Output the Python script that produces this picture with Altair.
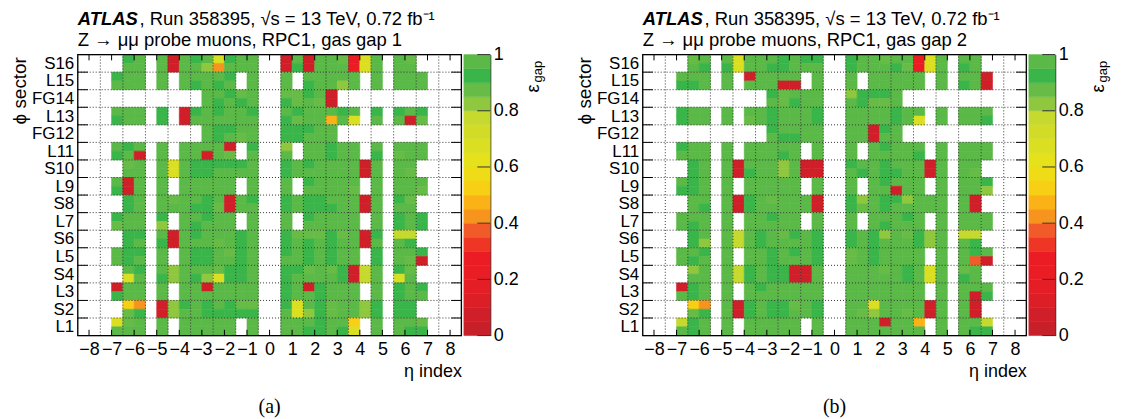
import json
import altair as alt
import pandas as pd

# ---------------- data ----------------
SECTORS = ["L1", "S2", "L3", "S4", "L5", "S6", "L7", "S8",
           "L9", "S10", "L11", "FG12", "L13", "FG14", "L15", "S16"]
ETA_TICKS = list(range(-8, 9))
Z_TICKS = [0, 0.2, 0.4, 0.6, 0.8, 1]

# colour of each 0.05-wide efficiency band, from 0 (bottom) to 1 (top)
PALETTE = ["#c8202a", "#d01f28", "#dc1e26", "#e51e26", "#ea1d25", "#ec1c24",
           "#ef3524", "#f15a29", "#f7941d", "#fbb216", "#f7cf14", "#efdc16",
           "#e5e11a", "#dbdf22", "#d2dc27", "#c6d92e", "#8fc73e", "#66bc46",
           "#3ab54a", "#5ab947"]

# efficiency value read for each colour code used in the maps below
EFF = {"g": 0.975, "G": 0.925, "o": 0.875, "l": 0.825, "y": 0.775, "Y": 0.675,
       "j": 0.525, "a": 0.475, "O": 0.425, "e": 0.375, "R": 0.225, "r": 0.075}

# gas gap 1: one string per half-sector row (top = S16 upper half ... bottom = L1 lower half),
# one character per half eta-index column from eta -8.5 to 8.5 ('.' = no data)
GAP1 = [
    "....Gg.grgGgYGgg..rgrggoRYg.go....",
    "....gg.grgglOggg..rGrgggRYg.gg....",
    "...Ggg.g.ggggG.g..g.ggggg.g.ggg...",
    "...ggg.g.gGgGg.g..g.Ggglg.g.ggg...",
    "...........ggGog..ooGgr...........",
    "...........gGgGg..Gogor...........",
    "...ggg.G.rGgGggG..gGgggGg.G.GgG...",
    "...Ggg.G.rgggggg..GoggagY.g.gro...",
    "...........gGGgg..GGGgg...........",
    "...........gGgog..GGggg...........",
    "...gGg.g.ggggr.G..l.ggGgg.g.ggg...",
    "...Ggr.g.ggrgo.g..g.ggGgg.G.ogg...",
    "....og.gYgGGGGGg..GgGggggrg.gg....",
    "....gg.gYgGGgggg..Gggggggrg.go....",
    "...grg.g.ggggg.g..g.Ggggg.g.ggg...",
    "...Grg.g.ggggg.g..g.ggggo.g.ggo...",
    "....Gg.goggGgrgG..GgGGgggrg.Go....",
    "....Gg.gggGGorgg..GgGGGggrg.gg....",
    "...Ggg.G.ggGgg.g..g.Ggggg.g.GgG...",
    "...ogg.l.gGggg.g..g.ggggg.g.GgG...",
    "....GG.grgGgggGg..GoooGogrG.yy....",
    "....Gg.GrgggogGg..GgGgGggrg.gG....",
    "...gGG.g.gGGgoGg..GgGgGgg.G.ggG...",
    "...gGg.g.gGGggGg..ggGgGgg.G.gor...",
    "....gG.glgggoGGg..GGogoGryg.Go....",
    "....Yg.GlgGlYGGg..GggggGryg.Yg....",
    "...rgg.g.ggrgggg..GgrGggg.g.GgG...",
    "...Ggg.g.ggggggg..GggGggg.g.Ggg...",
    "....jO.rlGgGgGoo..GYgGogglG.GG....",
    "....oG.rlggGGGGG..gYlGogglG.GG....",
    "...Yog.g.ggggg.g..gggGggj.g.ggo...",
    "...ggg.g.ggggg.g..ggGGgGY.g.gGG...",
]

# gas gap 2, same layout
GAP2 = [
    "....og.gYgggGgGG..GggoggRYg.gg....",
    "....gG.GYggGGggg..GgggGoRYg.Gg....",
    "...ggg.g.rgggg.g..g.ggggg.g.ggr...",
    "...GGg.g.gggrr.g..g.ggggg.g.Ggr...",
    "...........Goggg..lGGGg...........",
    "...........goGgg..gGoog...........",
    "...Ggg.g.ggGgggG..ggggGgg.g.ggg...",
    "...Ggg.g.ogGgggG..ggggGgY.g.ggG...",
    "...........Ggggg..ggrGg...........",
    "...........gGGgg..ggrgg...........",
    "...Ggg.g.ggggg.g..g.gGggg.g.ggg...",
    "...ggg.g.gggGg.g..g.ggggG.g.ggg...",
    "....Gg.grggglgrr..GggGgggrg.gg....",
    "....Gg.grGgglgrr..gGgGGggrg.go....",
    "...gGg.g.ggggg.g..g.gGggg.g.ggG...",
    "...GGg.g.ggggg.g..g.ggrgg.g.ggl...",
    "....gg.grGgogggr..GlgGGlggg.gr....",
    "....gG.grGgggggr..GogGggggg.gr....",
    "...ggg.g.ggGgg.g..g.gggGg.g.ggg...",
    "...gGg.g.ggggg.g..g.gGggg.g.ggg...",
    "....Gg.gygGgoGgG..GgGlgoGlg.yy....",
    "....Gl.gygGggggG..GgGgggGlg.gG....",
    "...ggG.g.ggGgGgG..ogGgggg.g.gGg...",
    "...gGg.g.ggGgggG..ogGgggg.g.ger...",
    "....lg.gyGgGGrrg..gggogGgYg.og....",
    "....gg.gyGgGGrrg..gggggGgYg.Gg....",
    "...rGg.g.gGggggg..ggggggg.g.ggg...",
    "...gGg.g.ggggggg..ggggggg.g.grG...",
    "....jO.grGgGGogG..ggYggggrg.gr....",
    "....oG.grGgGGggG..golggogrg.gr....",
    "...yGg.g.ggggg.g..gggrgga.g.ggy...",
    "...gGg.g.ggggg.g..ggggggg.g.gGG...",
]

TITLE_ATLAS = "ATLAS"
TITLE_RUN = ", Run 358395, \u221as = 13 TeV, 0.72 fb\u207b\u00b9"
SUBTITLE = "Z \u2192 \u03bc\u03bc probe muons, RPC1, gas gap {}"

# ---------------- layout / style ----------------
FONT = "Liberation Sans"
SERIF = "Liberation Serif"
W, H = 385, 282
N_SECT = len(SECTORS)
X_LO, X_HI = ETA_TICKS[0] - 0.5, ETA_TICKS[-1] + 0.5
CB_X0, CB_X1 = 387.5, 414


def cell_frame(rows):
    assert len(rows) == 2 * N_SECT
    recs = []
    for r, row in enumerate(rows):
        assert len(row) == 2 * len(ETA_TICKS), (r, row, len(row))
        top = N_SECT - 0.5 * r
        for k, c in enumerate(row):
            if c in EFF:
                lo = X_LO + 0.5 * k
                recs.append(dict(x0=lo, x1=lo + 0.5, y0=top - 0.5, y1=top, eff=EFF[c]))
    return pd.DataFrame(recs)


zscale = alt.Scale(type="threshold",
                   domain=[round(0.05 * i, 2) for i in range(1, len(PALETTE))],
                   range=PALETTE)
xs = alt.Scale(domain=[X_LO, X_HI], nice=False, zero=False)
ys = alt.Scale(domain=[0, N_SECT], nice=False, zero=False)
cs = alt.Scale(domain=[0, 1], nice=False, zero=False)
label_expr = json.dumps(SECTORS) + "[floor(datum.value)]"

# one x axis definition, shared by every layer that uses the eta scale
X_AXIS = alt.Axis(
    values=ETA_TICKS, format="d", title="\u03b7 index", grid=False, domain=False,
    ticks=False, tickSize=0, labelFont=FONT, labelFontSize=18, labelColor="black",
    labelPadding=5, labelFlush=False, labelOverlap=False,
    titleFont=FONT, titleFontSize=18, titleFontWeight="normal", titleColor="black",
    titleX=W, titleY=41, titleAlign="right", titleBaseline="alphabetic", titleAngle=0)


def txt(s, x, y, size=18, align="left", font=FONT, angle=0, weight="normal", style="normal"):
    return alt.Chart(pd.DataFrame({"t": [s]})).mark_text(
        align=align, baseline="alphabetic", font=font, fontSize=size, color="black",
        angle=angle, fontWeight=weight, fontStyle=style,
    ).encode(text="t:N", x=alt.value(x), y=alt.value(y))


def ex(field):
    return alt.X(field, type="quantitative", scale=xs, axis=X_AXIS, title="\u03b7 index")


def panel(rows, gap, caption):
    heat = alt.Chart(cell_frame(rows)).mark_rect(strokeWidth=0.6).encode(
        x=ex("x0"),
        x2="x1:Q",
        y=alt.Y("y0:Q", scale=ys, axis=alt.Axis(
            orient="left",
            values=[i + 0.5 for i in range(N_SECT)], labelExpr=label_expr,
            title="\u03d5 sector", grid=False, domain=False, ticks=False, tickSize=0,
            labelFont=FONT, labelFontSize=17, labelColor="black", labelPadding=4,
            labelFlush=False, labelOverlap=False,
            titleFont=FONT, titleFontSize=19, titleFontWeight="normal", titleColor="black",
            titleAngle=270, titleX=-52, titleY=2, titleAlign="right",
            titleBaseline="alphabetic")),
        y2="y1:Q",
        color=alt.Color("eff:Q", scale=zscale, legend=None),
        stroke=alt.Stroke("eff:Q", scale=zscale, legend=None),
    )
    grid_style = dict(color="#333333", strokeDash=[1, 2], strokeWidth=1)
    gv = alt.Chart(pd.DataFrame({"x0": [t + 0.5 for t in ETA_TICKS[:-1]],
                                 "ya": [0.0] * (len(ETA_TICKS) - 1),
                                 "yb": [float(N_SECT)] * (len(ETA_TICKS) - 1)})).mark_rule(
        **grid_style).encode(x=ex("x0"), y=alt.Y("ya:Q", scale=ys, axis=None), y2="yb:Q")
    gh = alt.Chart(pd.DataFrame({"y": list(range(1, N_SECT)),
                                 "x0": [X_LO] * (N_SECT - 1),
                                 "xb": [X_HI] * (N_SECT - 1)})).mark_rule(
        **grid_style).encode(y=alt.Y("y:Q", scale=ys, axis=None), x=ex("x0"), x2="xb:Q")
    nt = len(ETA_TICKS)
    xt = pd.DataFrame({"x0": ETA_TICKS * 2,
                       "ya": [0.0] * nt + [N_SECT - 0.33] * nt,
                       "yb": [0.33] * nt + [float(N_SECT)] * nt})
    xtk = alt.Chart(xt).mark_rule(color="black", strokeWidth=1).encode(
        x=ex("x0"), y=alt.Y("ya:Q", scale=ys, axis=None), y2="yb:Q")
    ns = N_SECT - 1
    yt = pd.DataFrame({"y": list(range(1, N_SECT)) * 2,
                       "x0": [X_LO] * ns + [X_HI - 0.45] * ns,
                       "xb": [X_LO + 0.45] * ns + [X_HI] * ns})
    ytk = alt.Chart(yt).mark_rule(color="black", strokeWidth=1).encode(
        y=alt.Y("y:Q", scale=ys, axis=None), x=ex("x0"), x2="xb:Q")
    # plot frame
    frame = alt.Chart(pd.DataFrame({"x0": [X_LO], "xb": [X_HI], "ya": [0.0],
                                    "yb": [float(N_SECT)]})).mark_rect(
        fill="transparent", stroke="black", strokeWidth=1.3).encode(
        x=ex("x0"), x2="xb:Q", y=alt.Y("ya:Q", scale=ys, axis=None), y2="yb:Q")

    nb = len(PALETTE)
    bands = pd.DataFrame({"lo": [i / nb for i in range(nb)],
                          "hi": [(i + 1) / nb for i in range(nb)],
                          "eff": [(i + 0.5) / nb for i in range(nb)]})
    cbar = alt.Chart(bands).mark_rect(strokeWidth=0.5).encode(
        x=alt.value(CB_X0), x2=alt.value(CB_X1),
        y=alt.Y("lo:Q", scale=cs, title="", axis=alt.Axis(
            orient="right", offset=CB_X1 - W, values=Z_TICKS, format=".1~f", grid=False,
            domain=True, domainColor="black", domainWidth=1, ticks=False, tickSize=0,
            labelFont=FONT, labelFontSize=18, labelColor="black", labelPadding=3,
            labelFlush=False, labelOverlap=False)),
        y2="hi:Q",
        color=alt.Color("eff:Q", scale=zscale, legend=None),
        stroke=alt.Stroke("eff:Q", scale=zscale, legend=None),
    )
    cbt = alt.Chart(pd.DataFrame({"v": Z_TICKS})).mark_rule(color="#333333", strokeWidth=1).encode(
        x=alt.value(CB_X1 - 13), x2=alt.value(CB_X1), y=alt.Y("v:Q", scale=cs, axis=None))

    texts = [
        txt(TITLE_ATLAS, 0, -30, size=18.5, weight="bold", style="italic"),
        txt(TITLE_RUN, 62, -30, size=18.5),
        txt(SUBTITLE.format(gap), 0, -8.5, size=18.5),
        txt("\u03b5", 463, 38, size=18, angle=270),
        txt("gap", 466, 28, size=13, angle=270),
        txt(caption, W / 2, 360, size=20, align="center", font=SERIF),
    ]
    return alt.layer(heat, gv, gh, xtk, ytk, frame, cbar, cbt, *texts).resolve_scale(
        y="independent").properties(width=W, height=H)


chart = alt.hconcat(
    panel(GAP1, 1, "(a)"), panel(GAP2, 2, "(b)"), spacing=182, bounds="flush"
).properties(
    padding={"left": 2, "top": 0, "right": 4, "bottom": 4}
).configure_view(stroke="transparent").configure(font=FONT)

chart.save("out.html", embed_options={"renderer": "svg", "actions": False})
